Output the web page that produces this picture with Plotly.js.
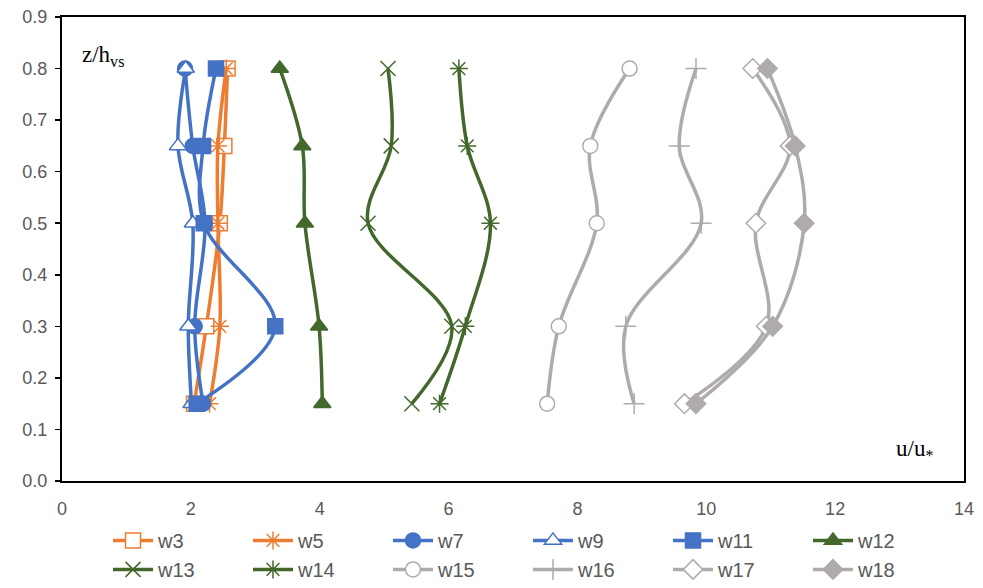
<!DOCTYPE html>
<html>
<head>
<meta charset="utf-8">
<script src="https://cdn.plot.ly/plotly-3.0.1.min.js"></script>
<style>html,body{margin:0;padding:0;background:#fff;}#chart{width:983px;height:588px;}</style>
</head>
<body>
<div id="chart"></div>
<script>
// Heights (z/h_vs)
var zLevels = [0.8, 0.65, 0.5, 0.3, 0.15];
// Velocity profiles u/u* for each case
var w3  = [2.57, 2.52, 2.45, 2.24, 2.05];
var w5  = [2.55, 2.42, 2.42, 2.45, 2.29];
var w7  = [1.91, 2.03, 2.22, 2.06, 2.19];
var w9  = [1.92, 1.80, 2.03, 1.96, 2.01];
var w11 = [2.39, 2.19, 2.20, 3.31, 2.09];
var w12 = [3.38, 3.73, 3.77, 3.99, 4.04];
var w13 = [5.06, 5.11, 4.75, 6.05, 5.43];
var w14 = [6.16, 6.29, 6.65, 6.26, 5.86];
var w15 = [8.81, 8.20, 8.30, 7.71, 7.53];
var w16 = [9.84, 9.58, 9.92, 8.75, 8.88];
var w17 = [10.72, 11.30, 10.77, 10.93, 9.66];
var w18 = [10.95, 11.38, 11.52, 11.03, 9.84];
var seriesNames = ['w3','w5','w7','w9','w11','w12','w13','w14','w15','w16','w17','w18'];
var seriesData = [w3,w5,w7,w9,w11,w12,w13,w14,w15,w16,w17,w18];

var ORANGE = '#ED7D31', BLUE = '#4472C4', GREEN = '#43682B', GRAY = '#AFABAB';
var styles = [
  {c: ORANGE, s: 'square', fill: '#ffffff'},
  {c: ORANGE, s: 'asterisk-open', fill: ORANGE},
  {c: BLUE, s: 'circle', fill: BLUE},
  {c: BLUE, s: 'triangle-up', fill: '#ffffff'},
  {c: BLUE, s: 'square', fill: BLUE},
  {c: GREEN, s: 'triangle-up', fill: GREEN},
  {c: GREEN, s: 'x-thin-open', fill: GREEN},
  {c: GREEN, s: 'asterisk-open', fill: GREEN},
  {c: GRAY, s: 'circle', fill: '#ffffff'},
  {c: GRAY, s: 'cross-thin-open', fill: GRAY},
  {c: GRAY, s: 'diamond', fill: '#ffffff'},
  {c: GRAY, s: 'diamond', fill: GRAY}
];

var traces = seriesNames.map(function(n, i) {
  var st = styles[i];
  return {
    type: 'scatter', mode: 'lines+markers', name: n,
    x: seriesData[i], y: zLevels,
    line: {color: st.c, width: 3.5, shape: 'spline', smoothing: 1},
    marker: {symbol: st.s, size: 15, color: st.fill, line: {color: st.c, width: 1.5}},
    cliponaxis: false
  };
});

var layout = {
  width: 983, height: 588,
  margin: {l: 62, r: 19, t: 17, b: 107, autoexpand: false},
  paper_bgcolor: '#ffffff', plot_bgcolor: '#ffffff',
  font: {family: 'Liberation Sans, Arial, sans-serif', color: '#595959', size: 18},
  xaxis: {
    range: [0, 14], dtick: 2, tick0: 0, showgrid: false, zeroline: false,
    showline: true, linecolor: '#000000', linewidth: 2, mirror: true,
    ticks: '', ticklabelstandoff: 10, tickfont: {size: 18, color: '#595959'}
  },
  yaxis: {
    range: [0, 0.9], dtick: 0.1, tick0: 0, tickformat: '.1f', showgrid: false, zeroline: false,
    showline: true, linecolor: '#000000', linewidth: 2, mirror: true,
    ticks: 'outside', ticklen: 5, tickcolor: '#000000', tickwidth: 1.5,
    ticklabelstandoff: 4, tickfont: {size: 18, color: '#595959'}
  },
  showlegend: true,
  legend: {
    orientation: 'h', x: 0.051, xanchor: 'left', y: -0.086, yanchor: 'top',
    entrywidth: 85, entrywidthmode: 'pixels',
    font: {size: 20, color: '#595959'}, tracegroupgap: 0, itemwidth: 40
  },
  annotations: [
    {xref: 'x', yref: 'y', x: 0.28, y: 0.825, xanchor: 'left', yanchor: 'middle', showarrow: false,
     text: 'z/h<sub>vs</sub>', font: {family: 'Liberation Serif, Times New Roman, serif', size: 23, color: '#000000'}},
    {xref: 'x', yref: 'y', x: 13.55, y: 0.06, xanchor: 'right', yanchor: 'middle', showarrow: false,
     text: 'u/u<sub>*</sub>', font: {family: 'Liberation Serif, Times New Roman, serif', size: 23, color: '#000000'}}
  ]
};

Plotly.newPlot('chart', traces, layout, {displayModeBar: false, staticPlot: true});
</script>
</body>
</html>
